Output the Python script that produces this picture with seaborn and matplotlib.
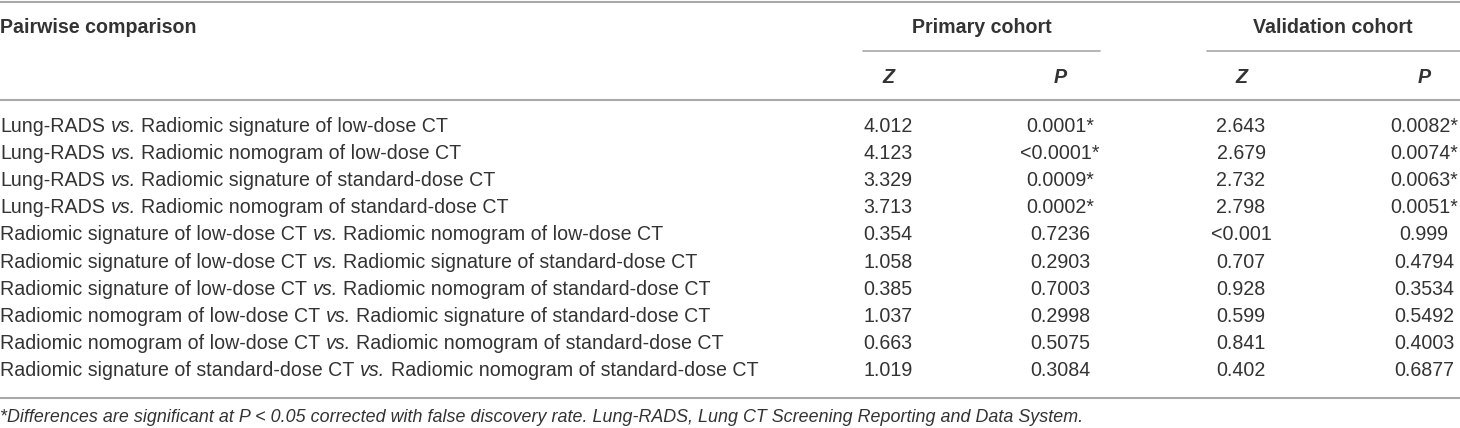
import matplotlib
matplotlib.use("Agg")
import matplotlib.pyplot as plt
import seaborn as sns

# table content
left_models = ["Lung-RADS", "Lung-RADS", "Lung-RADS", "Lung-RADS",
               "Radiomic signature of low-dose CT", "Radiomic signature of low-dose CT",
               "Radiomic signature of low-dose CT", "Radiomic nomogram of low-dose CT",
               "Radiomic nomogram of low-dose CT", "Radiomic signature of standard-dose CT"]
right_models = ["Radiomic signature of low-dose CT", "Radiomic nomogram of low-dose CT",
                "Radiomic signature of standard-dose CT", "Radiomic nomogram of standard-dose CT",
                "Radiomic nomogram of low-dose CT", "Radiomic signature of standard-dose CT",
                "Radiomic nomogram of standard-dose CT", "Radiomic signature of standard-dose CT",
                "Radiomic nomogram of standard-dose CT", "Radiomic nomogram of standard-dose CT"]
z_primary = ["4.012", "4.123", "3.329", "3.713", "0.354", "1.058", "0.385", "1.037", "0.663", "1.019"]
p_primary = ["0.0001*", "<0.0001*", "0.0009*", "0.0002*", "0.7236", "0.2903", "0.7003", "0.2998", "0.5075", "0.3084"]
z_valid = ["2.643", "2.679", "2.732", "2.798", "<0.001", "0.707", "0.928", "0.599", "0.841", "0.402"]
p_valid = ["0.0082*", "0.0074*", "0.0063*", "0.0051*", "0.999", "0.4794", "0.3534", "0.5492", "0.4003", "0.6877"]
footnote = ("*Differences are significant at P < 0.05 corrected with false discovery rate. "
            "Lung-RADS, Lung CT Screening Reporting and Data System.")

sns.set_theme(style="white")
plt.rcParams['font.family'] = ['Liberation Sans', 'DejaVu Sans']

W, H = 1460, 428
fig = plt.figure(figsize=(W / 100, H / 100), dpi=100)
ax = fig.add_axes([0, 0, 1, 1])
ax.set_xlim(0, W)
ax.set_ylim(H, 0)
ax.axis("off")

txt = "#333333"
rule = "#a8a8a8"
fs = 14.1

# rules
ax.axhline(1.5, color=rule, lw=1.5)
ax.axhline(100, color=rule, lw=1.5)
ax.axhline(398, color=rule, lw=1.5)
ax.plot([863, 1100], [51, 51], color=rule, lw=1.2)
ax.plot([1207, 1460], [51, 51], color=rule, lw=1.2)

# header
ax.text(0, 27, "Pairwise comparison", fontsize=fs, fontweight="bold", color=txt, va="center")
ax.text(982, 27, "Primary cohort", fontsize=fs, fontweight="bold", color=txt, va="center", ha="center")
ax.text(1333, 27, "Validation cohort", fontsize=fs, fontweight="bold", color=txt, va="center", ha="center")
col_x = [888, 1060, 1241, 1424]
for x, lab in zip(col_x, ["Z", "P", "Z", "P"]):
    ax.text(x, 77, lab, fontsize=fs, fontweight="bold", style="italic", color=txt, va="center", ha="center")

renderer = fig.canvas.get_renderer()


def text_width(s, **kw):
    t = ax.text(0, 0, s, fontsize=fs, **kw)
    w = t.get_window_extent(renderer).width
    t.remove()
    return w


space = text_width("a a") - text_width("aa")

row_y0, row_dy = 126, 27.2
for i in range(len(left_models)):
    y = row_y0 + i * row_dy
    x = 0
    t = ax.text(x, y, left_models[i], fontsize=fs, color=txt, va="center")
    x += t.get_window_extent(renderer).width + space
    t = ax.text(x, y, "vs.", fontsize=fs, color=txt, va="center", style="italic")
    x += t.get_window_extent(renderer).width + space
    ax.text(x, y, right_models[i], fontsize=fs, color=txt, va="center")
    for cx, vals in zip(col_x, [z_primary, p_primary, z_valid, p_valid]):
        ax.text(cx, y, vals[i], fontsize=fs, color=txt, va="center", ha="center")

ax.text(0, 417, footnote, fontsize=fs * 0.912, style="italic", color=txt, va="center")

fig.savefig("out.png", dpi=100, facecolor="white")
